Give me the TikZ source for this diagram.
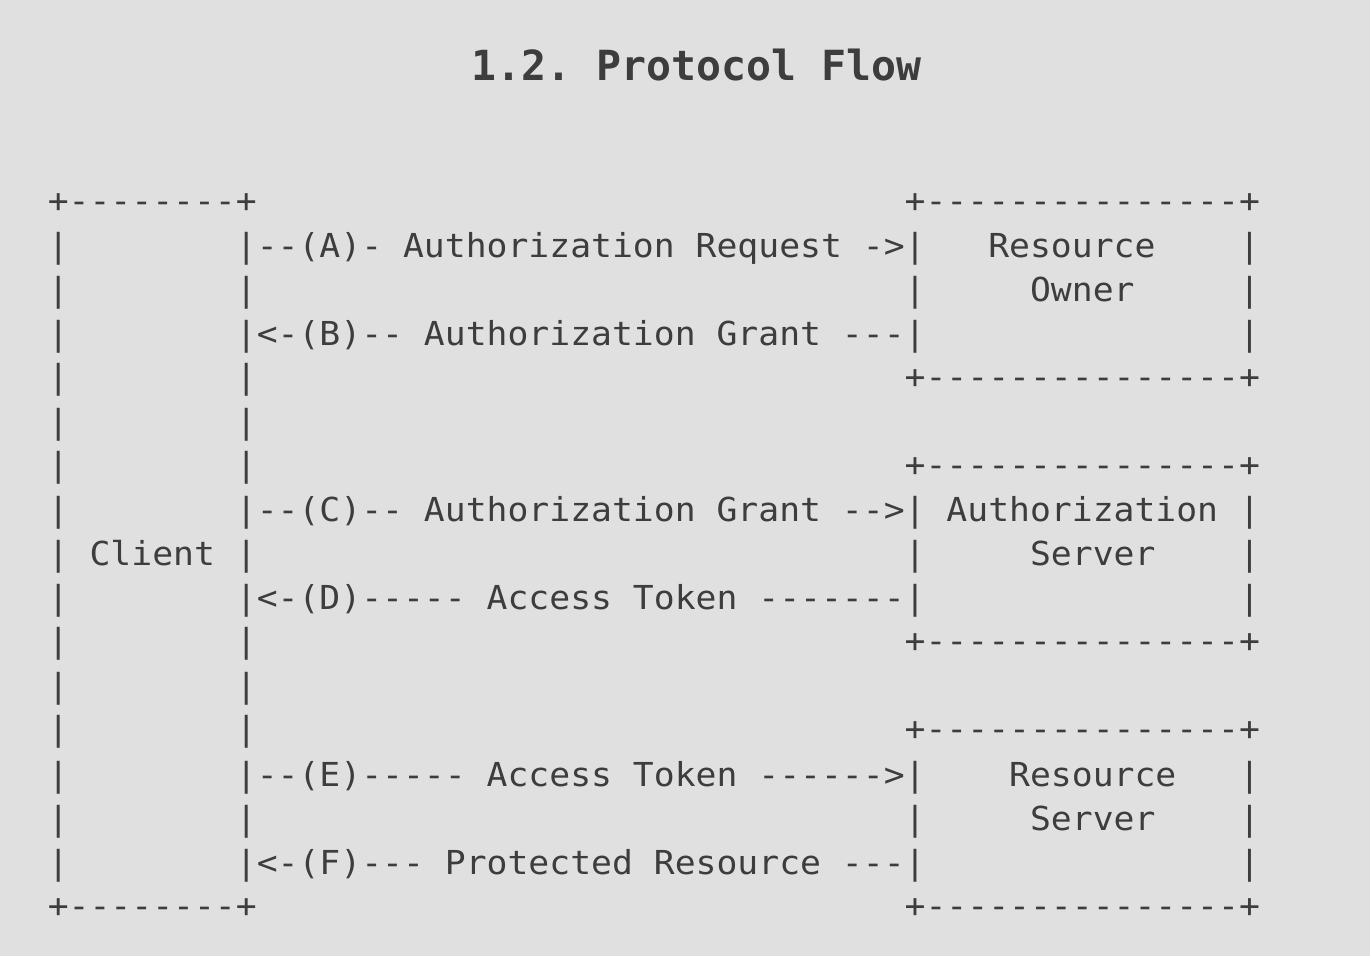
\documentclass[tikz,border=0pt]{standalone}
\usepackage{fontspec}
\usepackage{graphicx}
\setmonofont{DejaVu Sans Mono}
\definecolor{bgcol}{HTML}{E0E0E0}
\definecolor{inkcol}{HTML}{3D3D3D}
\begingroup
\catcode`\ =12\relax%
\gdef\rA{+--------+                               +---------------+}%
\gdef\rB{|        |--(A)- Authorization Request ->|   Resource    |}%
\gdef\rC{|        |                               |     Owner     |}%
\gdef\rD{|        |<-(B)-- Authorization Grant ---|               |}%
\gdef\rE{|        |                               +---------------+}%
\gdef\rF{|        |}%
\gdef\rG{|        |                               +---------------+}%
\gdef\rH{|        |--(C)-- Authorization Grant -->| Authorization |}%
\gdef\rI{| Client |                               |     Server    |}%
\gdef\rJ{|        |<-(D)----- Access Token -------|               |}%
\gdef\rK{|        |                               +---------------+}%
\gdef\rL{|        |}%
\gdef\rM{|        |                               +---------------+}%
\gdef\rN{|        |--(E)----- Access Token ------>|    Resource   |}%
\gdef\rO{|        |                               |     Server    |}%
\gdef\rP{|        |<-(F)--- Protected Resource ---|               |}%
\gdef\rQ{+--------+                               +---------------+}%
\endgroup
\newcommand\asciirow[1]{\scalebox{1.052}[1]{#1}}
\tikzset{
  artrow/.style={anchor=base west, inner sep=0pt, outer sep=0pt, text=inkcol,
    font=\ttfamily\fontsize{33}{44}\selectfont},
  titletext/.style={anchor=base, inner sep=0pt, outer sep=0pt, text=inkcol,
    font=\ttfamily\bfseries\fontsize{41.5}{50}\selectfont}
}
\begin{document}
\begin{tikzpicture}[x=1pt,y=-1pt]
\fill[bgcol] (0,0) rectangle (1370,956);
\useasboundingbox (0,0) rectangle (1370,956);
\node[titletext] (title) at (696.5,80) {\frenchspacing 1.2. Protocol Flow};
\node[artrow] (r0)  at (47.8,212)    {\asciirow{\rA}};
\node[artrow] (r1)  at (47.8,257.36) {\asciirow{\rB}};
\node[artrow] (r2)  at (47.8,301.42) {\asciirow{\rC}};
\node[artrow] (r3)  at (47.8,345.48) {\asciirow{\rD}};
\node[artrow] (r4)  at (47.8,388.5)  {\asciirow{\rE}};
\node[artrow] (r5)  at (47.8,433.6)  {\asciirow{\rF}};
\node[artrow] (r6)  at (47.8,476.5)  {\asciirow{\rG}};
\node[artrow] (r7)  at (47.8,521.72) {\asciirow{\rH}};
\node[artrow] (r8)  at (47.8,565.78) {\asciirow{\rI}};
\node[artrow] (r9)  at (47.8,609.84) {\asciirow{\rJ}};
\node[artrow] (r10) at (47.8,652.8)  {\asciirow{\rK}};
\node[artrow] (r11) at (47.8,697.96) {\asciirow{\rL}};
\node[artrow] (r12) at (47.8,740.9)  {\asciirow{\rM}};
\node[artrow] (r13) at (47.8,786.08) {\asciirow{\rN}};
\node[artrow] (r14) at (47.8,830.14) {\asciirow{\rO}};
\node[artrow] (r15) at (47.8,874.2)  {\asciirow{\rP}};
\node[artrow] (r16) at (47.8,917)    {\asciirow{\rQ}};
\end{tikzpicture}
\end{document}
